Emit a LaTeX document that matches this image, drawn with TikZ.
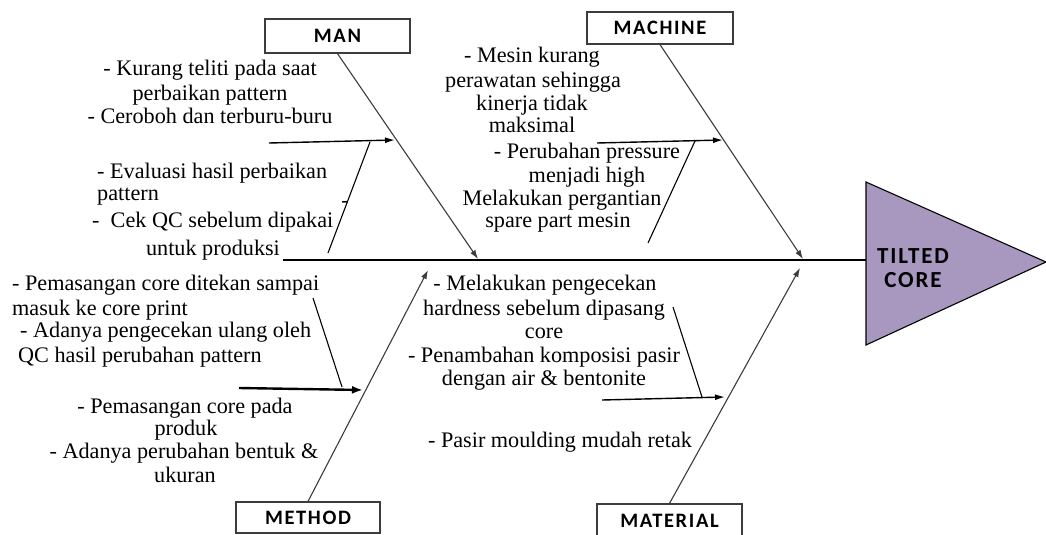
\documentclass[tikz,border=0pt]{standalone}
\usepackage{fontspec}
\setmainfont{Liberation Serif}
\newfontfamily\labfont[LetterSpace=8]{Carlito}
\usetikzlibrary{arrows.meta}
\definecolor{triviolet}{RGB}{168,152,192}
\definecolor{ribgray}{RGB}{60,60,60}
\tikzset{
  txt/.style={font=\fontsize{22.2}{24}\selectfont, inner sep=0pt, text height=15pt, text depth=5pt},
  catbox/.style={draw=ribgray, line width=1.2pt, fill=white, inner sep=0pt,
    font=\labfont\bfseries\fontsize{20.5}{22}\selectfont},
  rib/.style={draw=ribgray, line width=1.1pt, -{Latex[length=9pt,width=6pt]}},
  sub/.style={draw=black, line width=1.4pt, -{Latex[length=10pt,width=6pt]}},
  subthick/.style={draw=black, line width=2.4pt, -{Latex[length=11pt,width=8pt]}},
  tick/.style={draw=black, line width=1.1pt},
  spine/.style={draw=black, line width=2.6pt}
}
\begin{document}
\begin{tikzpicture}[x=1pt,y=-1pt]
\useasboundingbox (0,0) rectangle (1046,535);
% head
\fill[triviolet] (866,182) -- (1046,262) -- (866,345) -- cycle;
\draw[line width=1.1pt, line join=miter] (866,182) -- (1046,262) -- (866,345) -- cycle;
\coordinate (triW) at (866,260);
\node[font=\labfont\bfseries\fontsize{23}{24.5}\selectfont, align=center, inner sep=0pt] (head) at (913,268) {TILTED\\CORE};
% spine
\coordinate (spL) at (283,260);
\draw[spine] (spL) -- (triW);
% category boxes
\node[catbox, minimum width=145pt, minimum height=34pt] (man) at (337.5,36) {MAN};
\node[catbox, minimum width=146pt, minimum height=32pt] (machine) at (660,28) {MACHINE};
\node[catbox, minimum width=144pt, minimum height=31pt] (method) at (308,517.5) {METHOD};
\node[catbox, minimum width=145pt, minimum height=34pt] (material) at (669.5,521) {MATERIAL};
% rib ends on spine
\coordinate (eMan) at (478,259);
\coordinate (eMach) at (803,259);
\coordinate (eMeth) at (428,270);
\coordinate (eMat) at (800,268);
\draw[rib] (man.south) -- (eMan);
\draw[rib] (machine.south) -- (eMach);
\draw[rib] (method.north) -- (eMeth);
\draw[rib] (material.north) -- (eMat);
% sub-causes MAN
\coordinate (aMan0) at (269,143);
\coordinate (aMan1) at (395,140);
\draw[sub] (aMan0) -- (aMan1);
\coordinate (lMan0) at (370,142);
\coordinate (lMan1) at (328,253);
\draw[tick] (lMan0) -- (lMan1);
% sub-causes MACHINE
\coordinate (aMach0) at (597,143);
\coordinate (aMach1) at (723,140);
\draw[sub] (aMach0) -- (aMach1);
\coordinate (lMach0) at (695,141);
\coordinate (lMach1) at (648,243);
\draw[tick] (lMach0) -- (lMach1);
% sub-causes METHOD
\coordinate (aMeth0) at (239,388);
\coordinate (aMeth1) at (363,390);
\draw[subthick] (aMeth0) -- (aMeth1);
\coordinate (lMeth0) at (313,298);
\coordinate (lMeth1) at (342,387);
\draw[tick] (lMeth0) -- (lMeth1);
% sub-causes MATERIAL
\coordinate (aMat0) at (602,400);
\coordinate (aMat1) at (725,397);
\draw[sub] (aMat0) -- (aMat1);
\coordinate (lMat0) at (673,307);
\coordinate (lMat1) at (702,397);
\draw[tick] (lMat0) -- (lMat1);
% texts MAN
\node[txt] (t1) at (210,70) {- Kurang teliti pada saat};
\node[txt] (t2) at (210,95) {perbaikan pattern};
\node[txt] (t3) at (210,118) {- Ceroboh dan terburu-buru};
\node[txt, anchor=west] (t4) at (97,173) {- Evaluasi hasil perbaikan};
\node[txt, anchor=west] (t5) at (97,195) {pattern};
\node[txt, anchor=west] (t6) at (92,222) {-\ \ Cek QC sebelum dipakai};
\node[txt] (t7) at (213,250) {untuk produksi};
\node[txt] (t8) at (345,202) {-};
% texts MACHINE
\node[txt] (m1) at (532,58) {- Mesin kurang};
\node[txt] (m2) at (533,82) {perawatan sehingga};
\node[txt] (m3) at (532,105) {kinerja tidak};
\node[txt] (m4) at (532,127) {maksimal};
\node[txt] (m5) at (587,153) {- Perubahan pressure};
\node[txt] (m6) at (587,177) {menjadi high};
\node[txt] (m7) at (562,200) {Melakukan pergantian};
\node[txt] (m8) at (558,222) {spare part mesin};
% texts METHOD
\node[txt, anchor=west] (d1) at (12,285) {- Pemasangan core ditekan sampai};
\node[txt, anchor=west] (d2) at (12,310) {masuk ke core print};
\node[txt, anchor=west] (d3) at (20,332) {- Adanya pengecekan ulang oleh};
\node[txt, anchor=west] (d4) at (18,357) {QC hasil perubahan pattern};
\node[txt] (d5) at (185,408) {- Pemasangan core pada};
\node[txt] (d6) at (186,430) {produk};
\node[txt] (d7) at (184,453) {- Adanya perubahan bentuk \&};
\node[txt] (d8) at (185,477) {ukuran};
% texts MATERIAL
\node[txt] (r1) at (545,285) {- Melakukan pengecekan};
\node[txt] (r2) at (544,310) {hardness sebelum dipasang};
\node[txt] (r3) at (544,333) {core};
\node[txt] (r4) at (544,357) {- Penambahan komposisi pasir};
\node[txt] (r5) at (544,380) {dengan air \& bentonite};
\node[txt] (r6) at (560,442) {- Pasir moulding mudah retak};
\end{tikzpicture}
\end{document}
